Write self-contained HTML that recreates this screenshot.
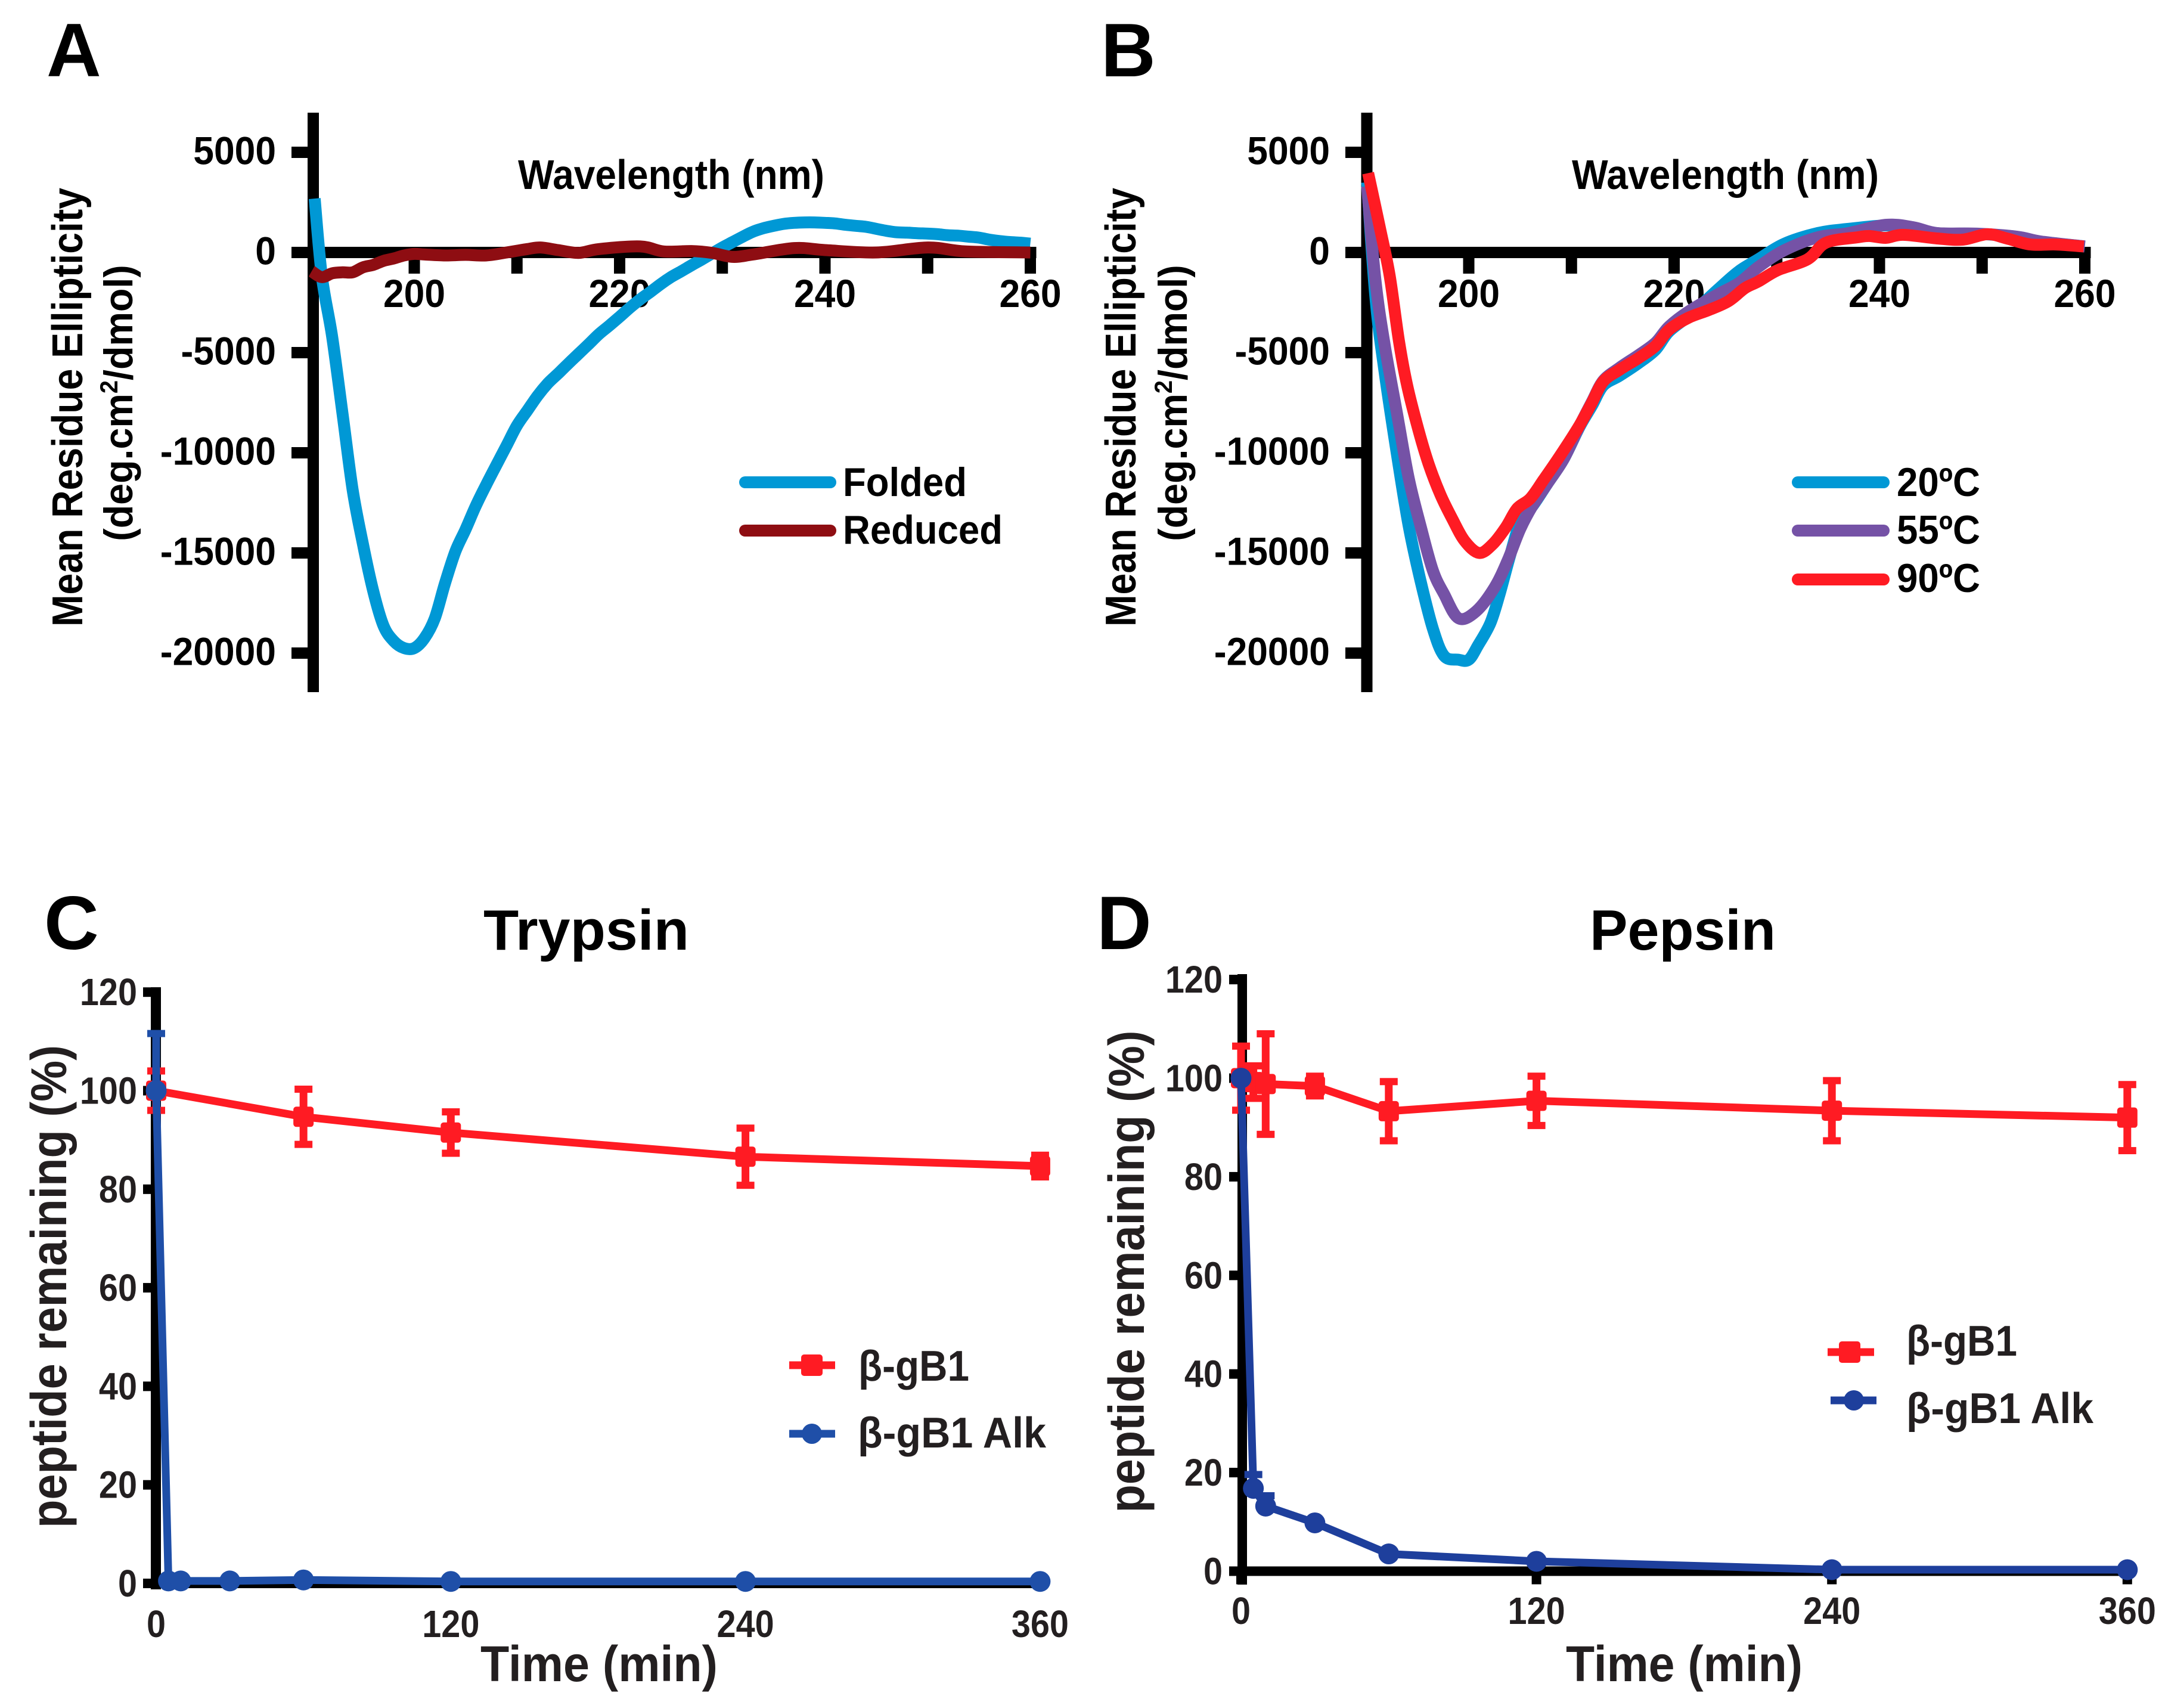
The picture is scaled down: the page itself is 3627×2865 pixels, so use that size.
<!DOCTYPE html>
<html lang="en">
<head>
<meta charset="utf-8">
<title>Circular dichroism and protease stability of beta-gB1</title>
<style>
html,body{margin:0;padding:0;background:#fff;}
svg{display:block;}
text{font-family:"Liberation Sans",sans-serif;font-weight:bold;}
</style>
</head>
<body>
<svg id="figure" xmlns="http://www.w3.org/2000/svg" width="3627" height="2865" viewBox="0 0 3627 2865">
<rect x="0" y="0" width="3627" height="2865" fill="#fff"/>
<g id="panelA"></g>
<g id="panelB"></g>
<g id="panelC"></g>
<g id="panelD"></g>

<text x="78" y="128" font-size="127">A</text>
<text x="1847" y="128" font-size="127">B</text>
<text x="74" y="1592" font-size="127">C</text>
<text x="1840" y="1592" font-size="127">D</text>

<text x="869" y="317" font-size="70" textLength="514" lengthAdjust="spacingAndGlyphs">Wavelength (nm)</text>
<text transform="translate(138,683) rotate(-90)" text-anchor="middle" font-size="72" textLength="736" lengthAdjust="spacingAndGlyphs">Mean Residue Ellipticity</text>
<text transform="translate(222,676) rotate(-90) scale(0.95,1)" text-anchor="middle" font-size="68">(deg.cm<tspan font-size="42" dy="-25">2</tspan><tspan dy="25">/dmol)</tspan></text>

<text x="2637" y="317" font-size="70" textLength="515" lengthAdjust="spacingAndGlyphs">Wavelength (nm)</text>
<text transform="translate(1905,683) rotate(-90)" text-anchor="middle" font-size="72" textLength="736" lengthAdjust="spacingAndGlyphs">Mean Residue Ellipticity</text>
<text transform="translate(1991,676) rotate(-90) scale(0.95,1)" text-anchor="middle" font-size="68">(deg.cm<tspan font-size="42" dy="-25">2</tspan><tspan dy="25">/dmol)</tspan></text>

<text x="811" y="1593" font-size="96" textLength="345" lengthAdjust="spacingAndGlyphs">Trypsin</text>
<text x="806" y="2820" font-size="84" fill="#231f20" textLength="398" lengthAdjust="spacingAndGlyphs">Time (min)</text>
<text transform="translate(111,2158) rotate(-90)" text-anchor="middle" font-size="84" fill="#231f20" textLength="810" lengthAdjust="spacingAndGlyphs">peptide remaining (%)</text>

<text x="2667" y="1593" font-size="96" textLength="312" lengthAdjust="spacingAndGlyphs">Pepsin</text>
<text x="2627" y="2820" font-size="84" fill="#231f20" textLength="397" lengthAdjust="spacingAndGlyphs">Time (min)</text>
<text transform="translate(1919,2133) rotate(-90)" text-anchor="middle" font-size="84" fill="#231f20" textLength="809" lengthAdjust="spacingAndGlyphs">peptide remaining (%)</text>

<g font-size="68">
  <line x1="1250" y1="809" x2="1393" y2="809" stroke="#0098d5" stroke-width="20" stroke-linecap="round"/>
  <text x="1414" y="832" textLength="208" lengthAdjust="spacingAndGlyphs">Folded</text>
  <line x1="1250" y1="890" x2="1393" y2="890" stroke="#8e0d12" stroke-width="20" stroke-linecap="round"/>
  <text x="1414" y="912" textLength="268" lengthAdjust="spacingAndGlyphs">Reduced</text>
</g>
<g font-size="68">
  <line x1="3016" y1="809" x2="3160" y2="809" stroke="#0098d5" stroke-width="20" stroke-linecap="round"/>
  <text x="3182" y="832" textLength="140" lengthAdjust="spacingAndGlyphs">20ºC</text>
  <line x1="3016" y1="890" x2="3160" y2="890" stroke="#7552a6" stroke-width="20" stroke-linecap="round"/>
  <text x="3182" y="912" textLength="140" lengthAdjust="spacingAndGlyphs">55ºC</text>
  <line x1="3016" y1="972" x2="3160" y2="972" stroke="#ff1b23" stroke-width="20" stroke-linecap="round"/>
  <text x="3182" y="993" textLength="140" lengthAdjust="spacingAndGlyphs">90ºC</text>
</g>
<g font-size="72" fill="#231f20">
  <line x1="1324" y1="2290" x2="1401" y2="2290" stroke="#ff1b23" stroke-width="13"/>
  <rect x="1344" y="2272" width="36" height="36" rx="5" fill="#ff1b23"/>
  <text x="1440" y="2316" textLength="186" lengthAdjust="spacingAndGlyphs">β-gB1</text>
  <line x1="1324" y1="2405" x2="1401" y2="2405" stroke="#1f4fa8" stroke-width="13"/>
  <circle cx="1362" cy="2405" r="17" fill="#1f4fa8"/>
  <text x="1439" y="2428" textLength="316" lengthAdjust="spacingAndGlyphs">β-gB1 Alk</text>
</g>
<g font-size="72" fill="#231f20">
  <line x1="3066" y1="2268" x2="3144" y2="2268" stroke="#ff1b23" stroke-width="13"/>
  <rect x="3085" y="2250" width="36" height="36" rx="5" fill="#ff1b23"/>
  <text x="3198" y="2274" textLength="186" lengthAdjust="spacingAndGlyphs">β-gB1</text>
  <line x1="3071" y1="2349" x2="3148" y2="2349" stroke="#1e3f9c" stroke-width="13"/>
  <circle cx="3110" cy="2349" r="17" fill="#1e3f9c"/>
  <text x="3198" y="2387" textLength="314" lengthAdjust="spacingAndGlyphs">β-gB1 Alk</text>
</g>
</svg>

<script>
// ---------- Panel A data ----------
const foldedNm = [190.3,191,192,193,194,195,196,197,198,199,200,201,202,203,204,205,206,207,208,209,210,211,212,213,214,215,216,217,218,219,220,221,222,223,224,225,226,227,228,229,230,231,232,233,234,235,236,237,238,239,240,241,242,243,244,245,246,247,248,249,250,251,252,253,254,255,256,257,258,259,260];
const foldedValues = [2690,-1200,-4200,-8000,-11850,-14560,-16900,-18630,-19400,-19750,-19750,-19250,-18260,-16500,-14930,-13820,-12640,-11600,-10610,-9630,-8640,-7900,-7160,-6540,-6050,-5550,-5060,-4570,-4070,-3650,-3210,-2760,-2340,-1970,-1580,-1230,-940,-640,-350,-50,250,520,790,1040,1210,1330,1430,1480,1500,1500,1480,1450,1380,1330,1280,1180,1080,1010,990,960,940,910,860,840,790,740,640,570,520,490,440];
const reducedNm = [190,191,192,193,194,195,196,197,198,199,200,201,203,205,207,209,211,212.3,214,216,218,222,224.3,227,229,231,233,237,240,245,250,253.7,260];
const reducedValues = [-940,-1230,-1040,-990,-990,-740,-620,-420,-300,-150,-70,-100,-150,-120,-150,0,170,250,120,-20,170,300,50,70,-20,-220,-100,220,120,0,250,50,0];

// ---------- Panel B data ----------
const temp20Nm = [190.1,190.9,191.8,193,194.15,195.3,196.5,197.6,199,200,200.9,202.1,203,204,205.2,206.15,207.7,209.25,210.8,212,213.1,214.7,216.6,218.2,219.5,221.6,223,224.3,226.3,228.2,230.7,234,236.9,240.6,243.3,245.6,249.5,253.4,255.7,260];
const temp20Values = [3500,-2200,-5960,-10060,-13650,-16380,-18770,-20140,-20330,-20330,-19620,-18510,-17060,-15180,-13130,-12700,-11510,-10310,-8700,-7650,-6650,-6150,-5500,-4850,-3950,-3110,-2450,-1830,-940,-340,430,970,1175,1350,1250,960,930,780,540,300];
const temp55Nm = [190.1,190.9,191.8,193,194.15,195.3,196.5,197.6,199,200.7,202.5,203.8,205,206.15,207.7,209.25,210.8,212,213.1,214.7,216.6,218.2,219.5,221.4,224.3,226.3,228.2,230.7,234,237,240.6,243.3,245.6,249.5,253.4,255.7,260];
const temp55Values = [3300,-1340,-4590,-8000,-11260,-13640,-15870,-17060,-18260,-17920,-16730,-15360,-13820,-12700,-11510,-10310,-8650,-7450,-6400,-5750,-5100,-4500,-3700,-2950,-2080,-1530,-730,100,760,970,1380,1260,970,940,790,550,300];
const temp90Nm = [190.2,191.35,192.3,193.2,194,195.1,196.1,197.25,198.4,199.6,201,202.3,203.6,204.7,206,207.3,208.9,210.8,212,213.1,214.7,216.6,218.2,219.5,221.4,223.4,225.3,226.9,228.2,230.1,233,234.8,237.9,239,240.6,242.3,245.6,248.1,250.5,252.4,254.7,257.2,259.9];
const temp90Values = [3960,1220,-1170,-4420,-6640,-8860,-10570,-12100,-13300,-14400,-15000,-14580,-13730,-12790,-12280,-11340,-10140,-8620,-7490,-6440,-5850,-5250,-4660,-3860,-3260,-2870,-2430,-1780,-1450,-880,-340,490,760,820,730,880,700,640,910,700,400,400,300];

const cdYTicks = [5000,0,-5000,-10000,-15000,-20000];
const cdXTicks = [200,210,220,230,240,250,260];
const cdXLabels = [200,220,240,260];

// ---------- Panel C data ----------
const trypsinTimes = [0,60,120,240,360];
const trypsinValues = [100,94.7,91.5,86.6,84.7];
const trypsinErrors = [4,5.6,4.2,5.8,2.2];
const trypsinAlkTimes = [0,5,10,30,60,120,240,360];
const trypsinAlkValues = [100,0.5,0.5,0.5,0.7,0.4,0.4,0.4];
const trypsinAlkErrors = [11.6,0,0,0,0,0,0,0];

// ---------- Panel D data ----------
const pepsinTimes = [0,5,10,30,60,120,240,360];
const pepsinValues = [100,99.2,98.8,98.4,93.3,95.4,93.4,92];
const pepsinErrors = [6.5,3.3,10.2,2,6,5,6.1,6.7];
const pepsinAlkTimes = [0,5,10,30,60,120,240,360];
const pepsinAlkValues = [100,16.8,13.2,9.8,3.5,2,0.3,0.3];
const pepsinAlkErrors = [0,2.8,2.1,0,0,0,0,0];

const digestYTicks = [0,20,40,60,80,100,120];
const digestXTicks = [0,120,240,360];

const SVGNS = 'http://www.w3.org/2000/svg';

function make(parent, tag, name, attrs) {
  const el = document.createElementNS(SVGNS, tag);
  
  
  for (const k in attrs) el.setAttribute(k, attrs[k]);
  parent.appendChild(el);
  return el;
}
function rect(parent, name, x, y, w, h, fill) {
  return make(parent, 'rect', name, {x:x, y:y, width:w, height:h, fill:fill});
}
function label(parent, name, txt, x, y, size, anchor, fill, squeeze) {
  const natural = txt.split('').reduce((sum, c) => sum + (c === '-' ? 0.333 : 0.556), 0) * size;
  const el = make(parent, 'text', name, {x:x, y:y, 'font-size':size, 'text-anchor':anchor, fill:fill, textLength:(natural * squeeze).toFixed(1), lengthAdjust:'spacingAndGlyphs'});
  el.textContent = txt;
  return el;
}
function straightPath(parent, name, xs, ys, sx, sy, color, width) {
  const d = xs.map((v, i) => (i ? 'L' : 'M') + sx(v).toFixed(1) + ' ' + sy(ys[i]).toFixed(1)).join(' ');
  return make(parent, 'path', name, {d:d, fill:'none', stroke:color, 'stroke-width':width, 'stroke-linejoin':'round'});
}
function smoothPath(parent, name, xs, ys, sx, sy, color, width) {
  const px = xs.map(sx), py = ys.map(sy);
  let d = 'M' + px[0].toFixed(1) + ' ' + py[0].toFixed(1);
  for (let i = 0; i < px.length - 1; i++) {
    const a = Math.max(i - 1, 0), b = Math.min(i + 2, px.length - 1);
    const c1x = px[i] + (px[i + 1] - px[a]) / 6, c1y = py[i] + (py[i + 1] - py[a]) / 6;
    const c2x = px[i + 1] - (px[b] - px[i]) / 6, c2y = py[i + 1] - (py[b] - py[i]) / 6;
    d += ' C' + c1x.toFixed(1) + ' ' + c1y.toFixed(1) + ' ' + c2x.toFixed(1) + ' ' + c2y.toFixed(1) + ' ' + px[i + 1].toFixed(1) + ' ' + py[i + 1].toFixed(1);
  }
  return make(parent, 'path', name, {d:d, fill:'none', stroke:color, 'stroke-width':width, 'stroke-linejoin':'round'});
}

// ---------- CD panels ----------
function drawCD(group, prefix, xAt200, axisX, tickLeft, labelRight, axisW, series) {
  const sx = nm => xAt200 + (nm - 200) * 17.225;
  const sy = v => 423.5 - v * 0.0336;
  rect(group, prefix + '-y-axis', axisX - axisW / 2, 189, axisW, 972, '#000');
  rect(group, prefix + '-x-axis', axisX, 414, sx(260) + 10 - axisX, 19, '#000');
  cdYTicks.forEach(v => {
    rect(group, prefix + '-y-tick-' + v, tickLeft, sy(v) - 9.5, axisX - tickLeft, 19, '#000');
    label(group, prefix + '-y-tick-label-' + v, String(v), labelRight + 2, sy(v) + 20, 66, 'end', '#000', 0.945);
  });
  cdXTicks.forEach(v => {
    rect(group, prefix + '-x-tick-' + v, sx(v) - 9.5, 420, 19, 39, '#000');
  });
  cdXLabels.forEach(v => {
    label(group, prefix + '-x-tick-label-' + v, String(v), sx(v), 515, 66, 'middle', '#000', 0.945);
  });
  series.forEach(s => {
    smoothPath(group, s.name, s.xs, s.ys, sx, sy, s.color, 20);
  });
}
drawCD(document.getElementById('panelA'), 'panel-a', 695, 525.5, 489, 461, 19, [
  {name:'curve-folded', xs:foldedNm, ys:foldedValues, color:'#0098d5'},
  {name:'curve-reduced', xs:reducedNm, ys:reducedValues, color:'#8e0d12'}
]);
drawCD(document.getElementById('panelB'), 'panel-b', 2464, 2293, 2257, 2229, 19, [
  {name:'curve-20c', xs:temp20Nm, ys:temp20Values, color:'#0098d5'},
  {name:'curve-55c', xs:temp55Nm, ys:temp55Values, color:'#7552a6'},
  {name:'curve-90c', xs:temp90Nm, ys:temp90Values, color:'#ff1b23'}
]);

// ---------- Digestion panels ----------
function errorBars(group, prefix, xs, ys, es, sx, sy, color, upperOnly) {
  xs.forEach((t, i) => {
    if (!es[i]) return;
    const cx = sx(t), top = sy(ys[i] + es[i]), bot = sy(ys[i] - es[i]);
    const stemEnd = upperOnly ? sy(ys[i]) : bot;
    rect(group, prefix + '-error-stem-' + t, cx - 6.5, top, 13, stemEnd - top, color);
    rect(group, prefix + '-error-cap-top-' + t, cx - 15, top - 6, 30, 12, color);
    if (!upperOnly) {
      rect(group, prefix + '-error-cap-bottom-' + t, cx - 15, bot - 6, 30, 12, color);
    }
  });
}
function drawDigest(group, prefix, x0, xPer120, y0, yPer20, opts) {
  const sx = t => x0 + t * xPer120 / 120;
  const sy = p => y0 - p * yPer20 / 20;
  const axisX = opts.axisX, axisW = opts.axisW;
  rect(group, prefix + '-y-axis', axisX - axisW / 2, opts.axisTop, axisW, opts.axisBottom - opts.axisTop, '#000');
  rect(group, prefix + '-x-axis', axisX - axisW / 2, y0 - 8, sx(360) + 9 - axisX + axisW / 2, 16, '#000');
  digestYTicks.forEach(v => {
    rect(group, prefix + '-y-tick-' + v, opts.tickLeft, sy(v) - 8, axisX - opts.tickLeft, 16, '#000');
    label(group, prefix + '-y-tick-label-' + v, String(v), opts.labelRight, sy(v) + 22, 64, 'end', '#231f20', 0.9);
  });
  digestXTicks.forEach(v => {
    if (opts.xTicks) {
      rect(group, prefix + '-x-tick-' + v, sx(v) - 8, y0, 16, 22, '#000');
    }
    label(group, prefix + '-x-tick-label-' + v, String(v), sx(v), opts.xLabelY, 64, 'middle', '#231f20', 0.9);
  });
  const red = '#ff1b23', blue = opts.blue;
  straightPath(group, prefix + '-line-bgb1', opts.redT, opts.redV, sx, sy, red, 13);
  errorBars(group, prefix + '-bgb1', opts.redT, opts.redV, opts.redE, sx, sy, red, false);
  opts.redT.forEach((t, i) => {
    make(group, 'rect', prefix + '-marker-bgb1-' + t, {x:sx(t) - 17, y:sy(opts.redV[i]) - 17, width:34, height:34, rx:5, fill:red});
  });
  straightPath(group, prefix + '-line-bgb1-alk', opts.blueT, opts.blueV, sx, sy, blue, 13);
  errorBars(group, prefix + '-bgb1-alk', opts.blueT, opts.blueV, opts.blueE, sx, sy, blue, true);
  opts.blueT.forEach((t, i) => {
    make(group, 'circle', prefix + '-marker-bgb1-alk-' + t, {cx:sx(t), cy:sy(opts.blueV[i]), r:17.5, fill:blue});
  });
}
drawDigest(document.getElementById('panelC'), 'panel-c', 262, 494.3, 2656, 165.3, {
  axisX:261.5, axisW:17, axisTop:1656, axisBottom:2666, tickLeft:240, labelRight:230, xLabelY:2746, xTicks:false, blue:'#1f4fa8',
  redT:trypsinTimes, redV:trypsinValues, redE:trypsinErrors,
  blueT:trypsinAlkTimes, blueV:trypsinAlkValues, blueE:trypsinAlkErrors
});
drawDigest(document.getElementById('panelD'), 'panel-d', 2082, 495.6, 2635.5, 165.4, {
  axisX:2084, axisW:16, axisTop:1634, axisBottom:2658, tickLeft:2062, labelRight:2051, xLabelY:2724, xTicks:true, blue:'#1e3f9c',
  redT:pepsinTimes, redV:pepsinValues, redE:pepsinErrors,
  blueT:pepsinAlkTimes, blueV:pepsinAlkValues, blueE:pepsinAlkErrors
});
</script>
</body>
</html>
